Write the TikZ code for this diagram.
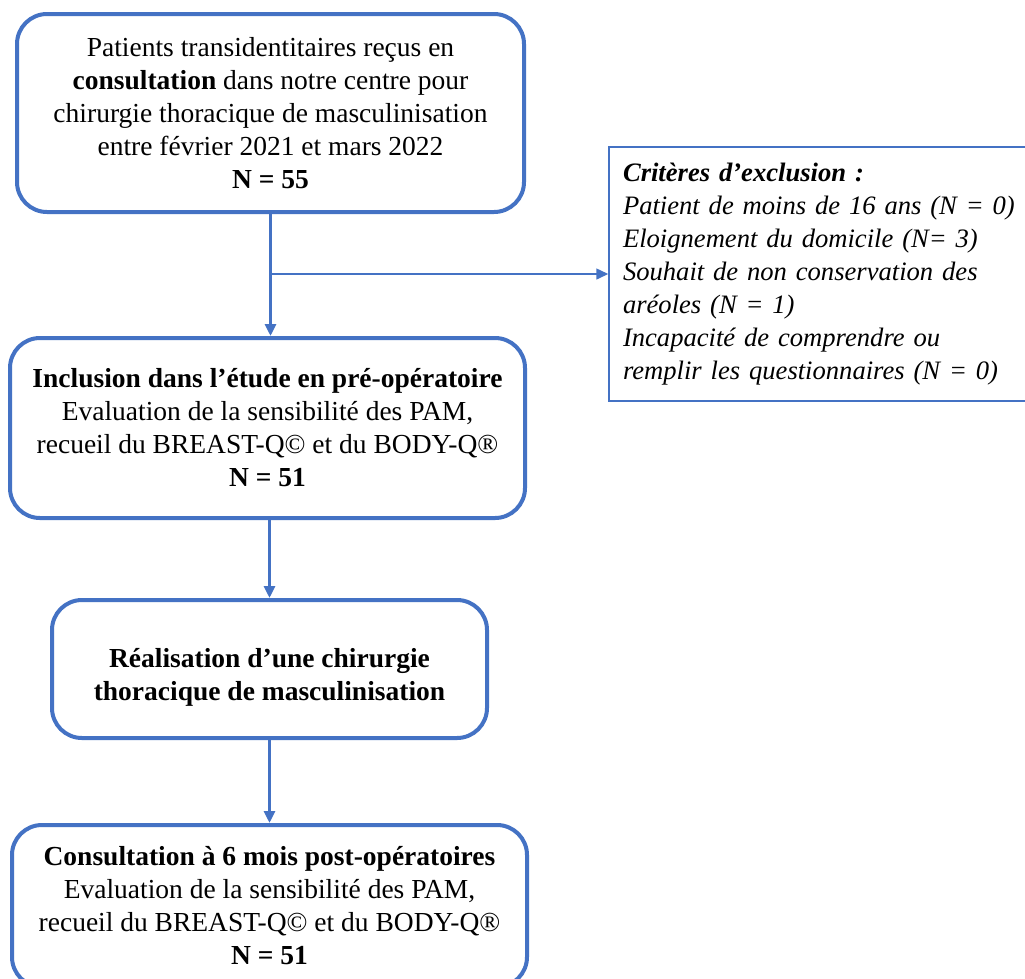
\documentclass[tikz,border=0pt]{standalone}
\usepackage{fontspec}
\setmainfont{Liberation Serif}
\usetikzlibrary{arrows.meta}
\definecolor{boxblue}{HTML}{4472C4}
\tikzset{
  stepbox/.style={draw=boxblue, line width=4pt, rounded corners=30pt, fill=white,
    align=center, inner sep=0pt, font=\fontsize{27.5}{33}\selectfont},
  exbox/.style={draw=boxblue, line width=1.5pt, fill=white, align=left,
    inner xsep=14pt, inner ysep=0pt, font=\fontsize{26.6}{32.9}\selectfont\itshape},
  arr/.style={draw=boxblue, line width=3pt, -{Triangle[length=12pt,width=11pt]}},
  thinarr/.style={draw=boxblue, line width=1.5pt, -{Triangle[length=12pt,width=11pt]}},
}
\begin{document}
\begin{tikzpicture}[x=1pt,y=-1pt]
\clip (0,0) rectangle (1025,978);
\fill[white] (0,0) rectangle (1025,978);

\node[stepbox, minimum width=507pt, minimum height=198pt] (b1) at (270.5,113)
  {Patients transidentitaires reçus en\\
   \textbf{consultation} dans notre centre pour\\
   chirurgie thoracique de masculinisation\\
   entre février 2021 et mars 2022\\
   \textbf{N = 55}};

\node[stepbox, minimum width=515pt, minimum height=180pt] (b2) at (267.5,428)
  {\textbf{Inclusion dans l’étude en pré-opératoire}\\
   Evaluation de la sensibilité des PAM,\\
   recueil du BREAST-Q© et du BODY-Q®\\
   \textbf{N = 51}};

\node[stepbox, minimum width=435pt, minimum height=138pt] (b3) at (269.5,669)
  {\rule{0pt}{35pt}\textbf{Réalisation d’une chirurgie}\\
   \textbf{thoracique de masculinisation}};

\node[stepbox, minimum width=515pt, minimum height=162pt] (b4) at (269.5,906)
  {\textbf{Consultation à 6 mois post-opératoires}\\
   Evaluation de la sensibilité des PAM,\\
   recueil du BREAST-Q© et du BODY-Q®\\
   \textbf{N = 51}};

\node[exbox, text width=410pt, minimum height=254pt] (ex) at (828,274)
  {\textbf{Critères d’exclusion :}\\
   Patient de moins de 16 ans (N = 0)\\
   Eloignement du domicile (N= 3)\\
   Souhait de non conservation des\\
   aréoles (N = 1)\\
   Incapacité de comprendre ou\\
   remplir les questionnaires (N = 0)};

\coordinate (j) at (b1.south |- ex.west);
\draw[arr] (b1.south) -- (b1.south |- b2.north);
\draw[thinarr] (j) -- (ex.west);
\draw[arr] (b2.south -| b3.north) -- (b3.north);
\draw[arr] (b3.south) -- (b3.south |- b4.north);
\end{tikzpicture}
\end{document}
